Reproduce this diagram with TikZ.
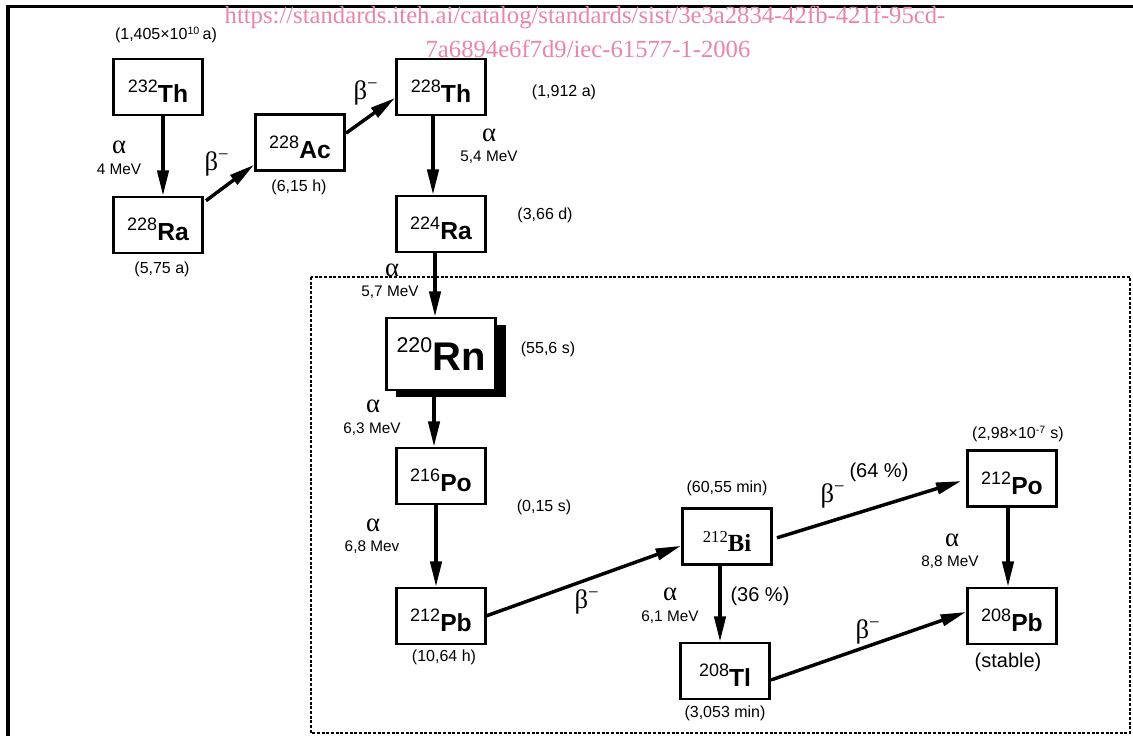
\documentclass[tikz,border=0pt]{standalone}
\usepackage{fontspec}
\setmainfont{Liberation Sans}
\newfontfamily\serif{Liberation Serif}
\usepackage{tikz}
\usetikzlibrary{arrows.meta, calc, positioning, shadows}
\definecolor{dunkel}{HTML}{000000}
\definecolor{wmrosa}{HTML}{EC84A4}

\newcommand{\iso}[2]{\rule{0pt}{23.5pt}\raisebox{7.5pt}{\fontsize{13.5}{14}\selectfont#1}{\fontsize{18.5}{19}\selectfont\bfseries#2}}

\begin{document}
\begin{tikzpicture}[
        x=0.75pt, y=-0.75pt,
        every node/.style={font=\fontsize{12}{14}\selectfont},
        nuklid/.style={draw, line width=2pt, minimum width=67pt,
                       minimum height=42pt, inner sep=0pt, fill=white},
        zerfall/.style={line width=2.6pt, dunkel,
                        -{Triangle[length=19pt, width=8.5pt]}},
        alpha/.style={font=\serif\fontsize{20}{20}\selectfont},
        energie/.style={font=\fontsize{11.5}{13}\selectfont},
        beta/.style={font=\serif\fontsize{20}{20}\selectfont},
        zweig/.style={font=\fontsize{15}{17}\selectfont},
      ]
      \useasboundingbox (0,0) rectangle (1133,736);

      % Rahmen
      \draw[line width=3.5pt] (8,736) -- (8,5.5);
      \draw[line width=2.6pt] (6,6.5) -- (1133,6.5);
      \draw[line width=0.9pt, dash pattern=on 2.2pt off 1.3pt]
        (311,277) rectangle (1130,733);

      % Wasserzeichen
      \node[font=\serif\fontsize{18.5}{20}\selectfont, text=wmrosa] (wm1) at (585,17)
        {https://standards.iteh.ai/catalog/standards/sist/3e3a2834-42fb-421f-95cd-};
      \node[font=\serif\fontsize{18.5}{20}\selectfont, text=wmrosa] (wm2) at (588,49)
        {7a6894e6f7d9/iec-61577-1-2006};

      % Nuklide
      \node[nuklid] (th232) at (158,87) {\iso{232}{Th}};
      \node[nuklid] (ra228) at (158,225) {\iso{228}{Ra}};
      \node[nuklid] (ac228) at (300,142.5) {\iso{228}{Ac}};
      \node[nuklid] (th228) at (441,87) {\iso{228}{Th}};
      \node[nuklid] (ra224) at (441,224) {\iso{224}{Ra}};
      \node[nuklid, minimum width=82pt, minimum height=54pt,
            drop shadow={shadow xshift=7.5pt, shadow yshift=-5.25pt,
                         fill=black, opacity=1}] (rn220) at (441,354)
        {\raisebox{13.5pt}{\fontsize{16}{16}\selectfont 220}{\fontsize{30}{30}\selectfont\bfseries Rn}};
      \node[nuklid] (po216) at (441,476) {\iso{216}{Po}};
      \node[nuklid] (pb212) at (441,616) {\iso{212}{Pb}};
      \node[nuklid] (bi212) at (727,536.5)
        {\serif\rule{0pt}{22pt}\raisebox{6.5pt}{\fontsize{12.5}{13}\selectfont 212}{\fontsize{18.5}{19}\selectfont\bfseries Bi}};
      \node[nuklid] (tl208) at (725,671) {\iso{208}{Tl}};
      \node[nuklid] (po212) at (1012,478.5) {\iso{212}{Po}};
      \node[nuklid] (pb208) at (1012,616) {\iso{208}{Pb}};

      % Halbwertszeiten
      \node (hth232) at (166,35) {(1,405×10\textsuperscript{10}\,a)};
      \node (hra228) at (162,269) {(5,75 a)};
      \node (hac228) at (299,187) {(6,15 h)};
      \node (hth228) at (564,92) {(1,912 a)};
      \node (hra224) at (545,215) {(3,66 d)};
      \node (hrn220) at (548,349) {(55,6 s)};
      \node (hpo216) at (544,507) {(0,15 s)};
      \node (hpb212) at (444,657) {(10,64 h)};
      \node (hbi212) at (727,488) {(60,55 min)};
      \node (htl208) at (725,713) {(3,053 min)};
      \node (hpo212) at (1018,434) {(2,98×10\textsuperscript{-7} s)};
      \node[zweig] (hpb208) at (1008,662) {(stable)};

      % Zerfaelle
      \draw[zerfall] ([xshift=3.75pt]th232.south) -- ([xshift=3.75pt]ra228.north);
      \draw[zerfall] ([xshift=1.5pt, yshift=-3.75pt]ra228.north east) -- ([yshift=5.25pt]ac228.south west);
      \draw[zerfall] ([yshift=7pt]ac228.east) -- ([yshift=-8.25pt]th228.west);
      \draw[zerfall] ([xshift=-6pt]th228.south) -- ([xshift=-6pt]ra224.north);
      \draw[zerfall] ([xshift=-4.5pt]ra224.south) -- ([xshift=-4.5pt]rn220.north);
      \draw[zerfall] ([xshift=-5.25pt]rn220.south) -- ([xshift=-5.25pt]po216.north);
      \draw[zerfall] ([xshift=-3.75pt]po216.south) -- ([xshift=-3.75pt]pb212.north);
      \draw[zerfall] ([xshift=-0.75pt]pb212.east) -- ([yshift=-7pt]bi212.west);
      \draw[zerfall] ([xshift=3pt, yshift=-1pt]bi212.east) -- ([xshift=-3.5pt, yshift=-1.9pt]po212.west);
      \draw[zerfall] ([xshift=-5.25pt]bi212.south) -- ([xshift=-3.75pt]tl208.north);
      \draw[zerfall] ([xshift=-3pt]po212.south) -- ([xshift=-3pt]pb208.north);
      \draw[zerfall] ([yshift=-6.75pt]tl208.east) -- ([yshift=3pt]pb208.west);

      % Beschriftung
      \node[alpha] (a1) at (119,147) {α};
      \node[energie] (e1) at (119,169) {4 MeV};
      \node[alpha] (a2) at (489,135) {α};
      \node[energie] (e2) at (489,157) {5,4 MeV};
      \node[alpha] (a3) at (392,270) {α};
      \node[energie] (e3) at (390,292) {5,7 MeV};
      \node[alpha] (a4) at (373,406) {α};
      \node[energie] (e4) at (372,429) {6,3 MeV};
      \node[alpha] (a5) at (373,525) {α};
      \node[energie] (e5) at (372,547) {6,8 Mev};
      \node[alpha] (a6) at (670,594) {α};
      \node[energie] (e6) at (670,617) {6,1 MeV};
      \node[alpha] (a7) at (952,540) {α};
      \node[energie] (e7) at (950,562) {8,8 MeV};

      \node[beta] (b1) at (217,164) {β\textsuperscript{−}};
      \node[beta] (b2) at (366,93) {β\textsuperscript{−}};
      \node[beta] (b3) at (587,602) {β\textsuperscript{−}};
      \node[beta] (b4) at (833,496) {β\textsuperscript{−}};
      \node[beta] (b5) at (868,632) {β\textsuperscript{−}};
      \node[zweig] (z1) at (879,472) {(64 \%)};
      \node[zweig] (z2) at (760,596) {(36 \%)};
    \end{tikzpicture}
\end{document}
